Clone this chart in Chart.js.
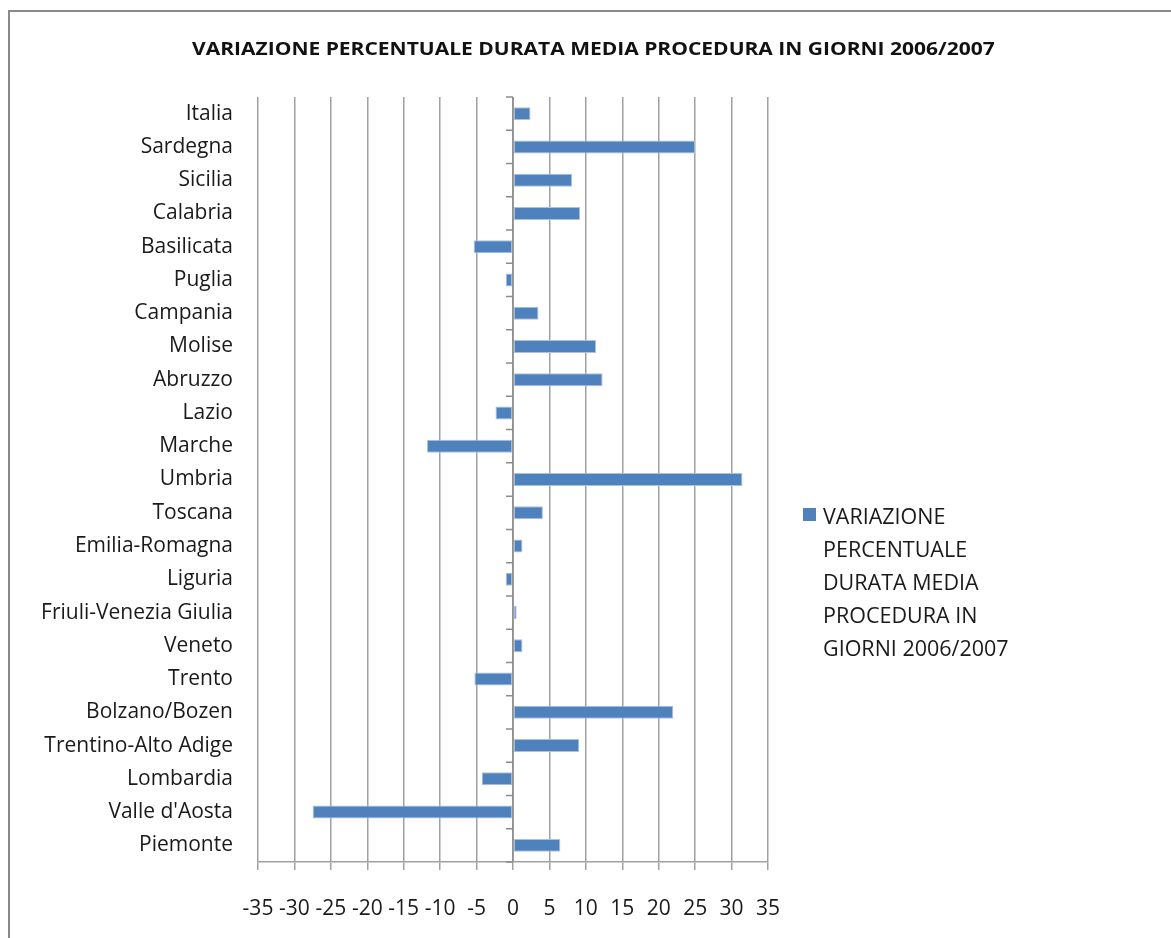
<!DOCTYPE html>
<html>
<head>
<meta charset="utf-8">
<script src="https://cdn.jsdelivr.net/npm/chart.js@4/dist/chart.umd.min.js"></script>
<style>
  html, body { margin: 0; padding: 0; background: #fff; overflow: hidden; }
  #frame { position: absolute; left: 8px; top: 10px; width: 1400px; height: 1200px;
           border-top: 2px solid #8a8a8a; border-left: 2px solid #8a8a8a; }
  #wrap { position: absolute; left: 0; top: 0; width: 1171px; height: 938px; }
  #title { position: absolute; left: 0; width: 1186px; top: 36px; text-align: center;
           font-family: "Open Sans", sans-serif; font-weight: bold; font-size: 17.5px; line-height: 24px;
           color: #111; white-space: nowrap; }
  #title span { display: inline-block; transform: scaleX(1.2); transform-origin: center; }
  #legend { position: absolute; left: 803px; top: 499px; width: 222px;
            font-family: "Open Sans", sans-serif; font-size: 21.5px; line-height: 33px; color: #1a1a1a; }
  #legend .sw { position: absolute; left: 0; top: 9px; width: 13px; height: 13px; }
  #legend .tx { margin-left: 20px; }
</style>
</head>
<body>
<div id="frame"></div>
<div id="wrap"><canvas id="c" width="1171" height="938"></canvas></div>
<div id="title"><span id="titleText"></span></div>
<div id="legend"></div>
<script>
// Source order (bottom to top in the chart)
const categories = ["Piemonte", "Valle d'Aosta", "Lombardia", "Trentino-Alto Adige", "Bolzano/Bozen", "Trento",
  "Veneto", "Friuli-Venezia Giulia", "Liguria", "Emilia-Romagna", "Toscana", "Umbria", "Marche", "Lazio",
  "Abruzzo", "Molise", "Campania", "Puglia", "Basilicata", "Calabria", "Sicilia", "Sardegna", "Italia"];
const values = [6.5, -27.5, -4.3, 9.1, 22.0, -5.3, 1.3, 0.5, -1.0, 1.3, 4.1, 31.5, -11.8, -2.4,
  12.3, 11.4, 3.5, -1.0, -5.4, 9.2, 8.1, 25.0, 2.4];
const seriesName = "VARIAZIONE PERCENTUALE DURATA MEDIA PROCEDURA IN GIORNI 2006/2007";
const chartTitle = "VARIAZIONE PERCENTUALE DURATA MEDIA PROCEDURA IN GIORNI 2006/2007";
const xMin = -35, xMax = 35, xStep = 5;

const barColor = '#4f81bd';
const gridColor = '#a0a0a0';

const zeroAxis = {
  id: 'zeroAxis',
  beforeDatasetsDraw(chart) {
    const { ctx, chartArea, scales } = chart;
    const x0 = scales.x.getPixelForValue(0);
    const n = chart.data.labels.length;
    const step = (chartArea.bottom - chartArea.top) / n;
    ctx.save();
    ctx.strokeStyle = '#8c8c8c';
    ctx.lineWidth = 1.5;
    ctx.beginPath();
    ctx.moveTo(x0, chartArea.top);
    ctx.lineTo(x0, chartArea.bottom);
    for (let i = 0; i <= n; i++) {
      const y = chartArea.top + i * step;
      ctx.moveTo(x0 - 7, y);
      ctx.lineTo(x0, y);
    }
    ctx.stroke();
    ctx.restore();
  }
};

document.getElementById('titleText').textContent = chartTitle;

const chart = new Chart(document.getElementById('c'), {
  type: 'bar',
  data: {
    labels: categories,
    datasets: [{
      label: seriesName,
      data: values,
      backgroundColor: barColor,
      borderColor: '#a9c1e0',
      borderWidth: 1,
      borderSkipped: false,
      categoryPercentage: 1,
      barPercentage: 0.39
    }]
  },
  options: {
    indexAxis: 'y',
    responsive: false,
    animation: false,
    layout: { padding: { left: 0, right: 403, top: 97, bottom: 0 } },
    plugins: {
      legend: { display: false },
      tooltip: { enabled: false },
      title: { display: false }
    },
    scales: {
      x: {
        min: xMin, max: xMax,
        ticks: { stepSize: xStep, autoSkip: false, maxRotation: 0, padding: 26,
                 color: '#1a1a1a', font: { family: 'Open Sans', size: 21 } },
        grid: { color: gridColor, lineWidth: 1.5, tickLength: 8, drawTicks: true, tickColor: gridColor },
        border: { display: true, color: gridColor, width: 1.5 },
        afterFit(s) { s.height = 76; }
      },
      y: {
        reverse: true,
        ticks: { padding: 17, autoSkip: false, color: '#1a1a1a', font: { family: 'Open Sans', size: 21 } },
        grid: { display: false },
        border: { display: false },
        afterFit(s) { s.width = 258; }
      }
    }
  },
  plugins: [zeroAxis]
});

// HTML legend built from the dataset
const lg = document.getElementById('legend');
chart.data.datasets.forEach(ds => {
  const sw = document.createElement('div');
  sw.className = 'sw';
  sw.style.background = ds.backgroundColor;
  const tx = document.createElement('div');
  tx.className = 'tx';
  tx.textContent = ds.label;
  lg.appendChild(sw);
  lg.appendChild(tx);
});
</script>
</body>
</html>
